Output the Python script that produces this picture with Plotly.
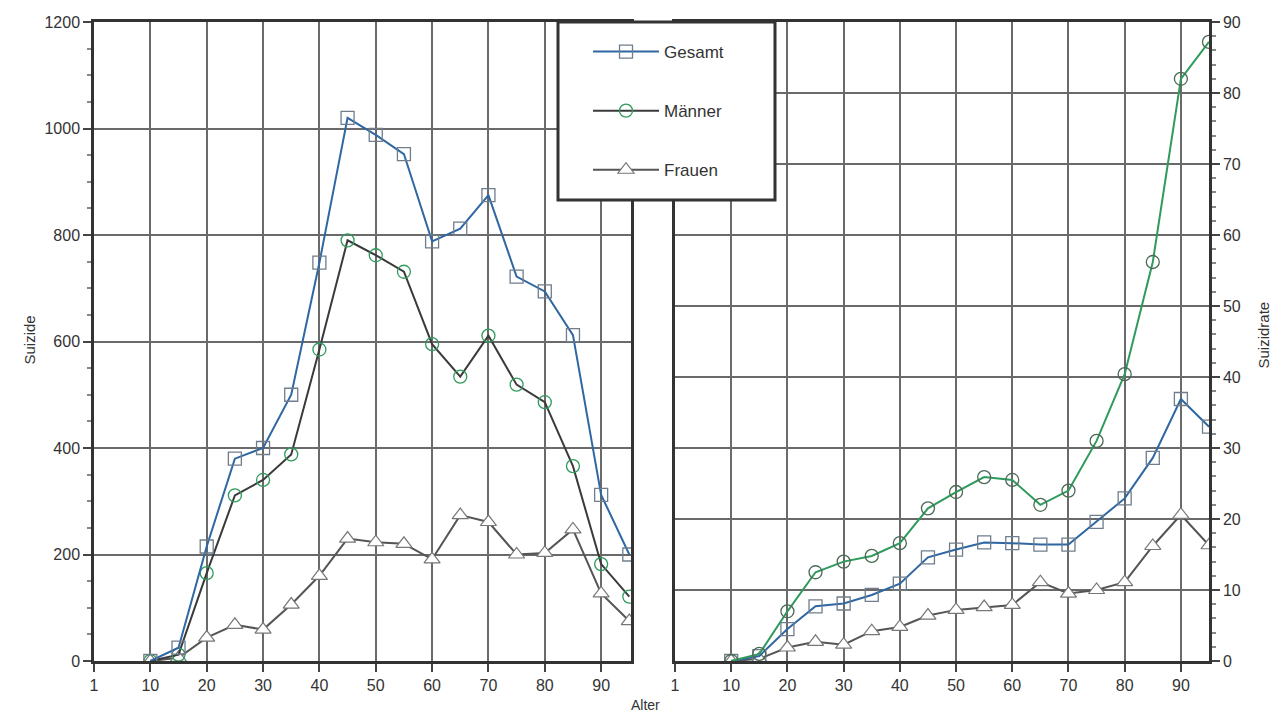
import plotly.graph_objects as go

ages = [10, 15, 20, 25, 30, 35, 40, 45, 50, 55, 60, 65, 70, 75, 80, 85, 90, 95]

# Left panel: number of suicides
suizide_gesamt = [0, 25, 215, 380, 400, 500, 748, 1020, 988, 952, 788, 812, 875, 722, 694, 612, 312, 200]
suizide_maenner = [0, 12, 165, 311, 340, 388, 585, 790, 762, 731, 595, 534, 611, 519, 486, 366, 182, 121]
suizide_frauen = [0, 6, 44, 68, 59, 106, 160, 230, 223, 220, 191, 274, 261, 200, 203, 247, 127, 75]

# Right panel: suicide rate
rate_gesamt = [0, 0.7, 4.5, 7.7, 8.1, 9.3, 10.9, 14.6, 15.7, 16.7, 16.6, 16.4, 16.4, 19.6, 22.9, 28.6, 36.9, 33.0]
rate_maenner = [0, 1.0, 7.0, 12.5, 14.0, 14.8, 16.6, 21.5, 23.8, 25.9, 25.5, 22.0, 24.0, 31.0, 40.4, 56.2, 82.0, 87.2]
rate_frauen = [0, 0.3, 1.9, 2.7, 2.3, 4.2, 4.8, 6.4, 7.2, 7.6, 7.9, 11.1, 9.5, 10.0, 11.1, 16.2, 20.6, 16.3]

series_names = ["Gesamt", "Männer", "Frauen"]
x_tickvals = [0, 10, 20, 30, 40, 50, 60, 70, 80, 90]
x_ticktext = ["1", "10", "20", "30", "40", "50", "60", "70", "80", "90"]

BLUE = "#2f67a3"
GREEN = "#2f9a5c"
DARK = "#3a3a3a"
GRAYLINE = "#555555"
SQUARE_COL = "#6f7d8c"

fig = go.Figure()

def add(x, y, name, xa, ya, line_color, symbol, mcolor, rank, mfill=None, show=False):
    marker = dict(symbol=symbol, size=13, color=mcolor, line=dict(width=1.3, color=mcolor))
    if mfill is not None:
        marker = dict(symbol=symbol, size=14, color=mfill, line=dict(width=1.2, color=mcolor))
    fig.add_trace(go.Scatter(
        x=x, y=y, name=name, mode="lines+markers", xaxis=xa, yaxis=ya,
        line=dict(color=line_color, width=2), marker=marker,
        showlegend=show, legendgroup=name, legendrank=rank,
    ))

add(ages, suizide_frauen, series_names[2], "x", "y", GRAYLINE, "triangle-up", "#777777", 3, "white", True)
add(ages, suizide_maenner, series_names[1], "x", "y", DARK, "circle-open", GREEN, 2, None, True)
add(ages, suizide_gesamt, series_names[0], "x", "y", BLUE, "square-open", SQUARE_COL, 1, None, True)

add(ages, rate_frauen, series_names[2], "x2", "y2", GRAYLINE, "triangle-up", "#777777", 3, "white")
add(ages, rate_gesamt, series_names[0], "x2", "y2", BLUE, "square-open", SQUARE_COL, 1)
add(ages, rate_maenner, series_names[1], "x2", "y2", GREEN, "circle-open", "#4a6a55", 2)

# The page places the figure 8 px in from the window corner.
OFF = 8
W, H = 1288 - OFF, 713 - OFF

def px(xr):
    return (xr - OFF) / W

def py(yr):
    return (H - (yr - OFF)) / H

tickfont = dict(family="Liberation Sans, Arial, sans-serif", size=16, color="#333333")
grid = dict(showgrid=True, gridcolor="#6a6a6a", gridwidth=1.6)

xcommon = dict(tickvals=x_tickvals, ticktext=x_ticktext, ticks="outside", ticklen=8,
               tickcolor="#444", tickwidth=1.5,
               showline=True, linecolor="#333", linewidth=2.5, mirror=True, zeroline=False,
               tickfont=tickfont, **grid)

fig.update_layout(
    width=W, height=H,
    margin=dict(l=0, r=0, t=0, b=0, autoexpand=False),
    paper_bgcolor="white", plot_bgcolor="white",
    xaxis=dict(domain=[px(94), px(631)], range=[0, 95.3], anchor="y", **xcommon),
    xaxis2=dict(domain=[px(675), px(1209)], range=[0, 95], anchor="y2", **xcommon),
    yaxis=dict(domain=[py(661), py(22)], range=[0, 1200], dtick=200, anchor="x",
               ticks="outside", ticklen=8, tickcolor="#444", tickwidth=1.5,
               minor=dict(dtick=50, ticks="outside", ticklen=4, tickcolor="#888"),
               showline=True, linecolor="#333", linewidth=2.5, mirror=True, zeroline=False,
               tickfont=tickfont, **grid),
    yaxis2=dict(domain=[py(661), py(22)], range=[0, 90], dtick=10, anchor="x2", side="right",
                ticks="outside", ticklen=8, tickcolor="#444", tickwidth=1.5,
                minor=dict(dtick=2, ticks="outside", ticklen=4, tickcolor="#888"),
                showline=True, linecolor="#333", linewidth=2.5, mirror=True, zeroline=False,
                tickfont=tickfont, **grid),
    legend=dict(x=px(588), y=py(34), xanchor="left", yanchor="top",
                bgcolor="rgba(0,0,0,0)", borderwidth=0,
                font=dict(family="Liberation Sans, Arial, sans-serif", size=17, color="#333"),
                traceorder="grouped", tracegroupgap=34, itemwidth=66),
    shapes=[
        dict(type="rect", xref="paper", yref="paper", layer="above",
             x0=px(558), x1=px(775), y0=py(200), y1=py(22),
             fillcolor="white", line=dict(color="#333", width=3)),
    ],
    annotations=[
        dict(text="Suizide", x=px(18), y=py(340), xref="paper", yref="paper",
             textangle=-90, showarrow=False, font=dict(family="Liberation Sans, Arial", size=15, color="#333")),
        dict(text="Suizidrate", x=px(1273), y=py(335), xref="paper", yref="paper",
             textangle=-90, showarrow=False, font=dict(family="Liberation Sans, Arial", size=15, color="#333")),
        dict(text="Alter", x=px(645), y=py(695), xref="paper", yref="paper", yanchor="top",
             showarrow=False, font=dict(family="Liberation Sans, Arial", size=14, color="#333")),
    ],
)

fig.write_html("out.html")
